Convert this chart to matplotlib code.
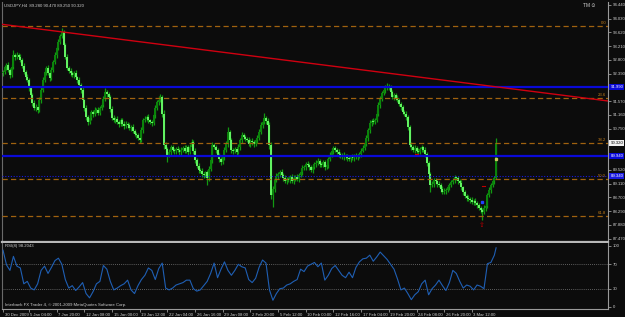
import matplotlib
matplotlib.use('Agg')
import matplotlib.pyplot as plt
import matplotlib.transforms as mtransforms
import numpy as np

# ---------------- data ----------------
first_open = 92.40
closes = [
    92.44, 92.58, 92.65, 92.50, 92.35, 92.60, 92.95, 92.88, 92.95, 92.90,
    92.80, 92.62, 92.44, 92.30, 92.20, 91.95, 91.76, 91.52, 91.37, 91.40,
    91.31, 91.60, 91.91, 92.20, 92.44, 92.56, 92.40, 92.26, 92.50, 92.74,
    92.95, 93.16, 93.35, 93.52, 93.64, 93.25, 92.90, 92.56, 92.48, 92.40,
    92.35, 92.42, 92.28, 92.20, 92.05, 91.91, 91.60, 91.37, 91.10, 90.95,
    91.08, 91.25, 91.18, 91.30, 91.31, 91.22, 91.38, 91.46, 91.65, 91.85,
    91.78, 91.70, 91.35, 91.07, 91.00, 91.05, 90.95, 90.90, 91.00, 90.88,
    90.83, 90.90, 90.85, 90.77, 90.80, 90.68, 90.59, 90.55, 90.48, 90.41,
    90.70, 91.01, 91.05, 91.10, 91.00, 90.95, 90.92, 91.15, 91.37, 91.55,
    91.61, 91.70, 91.20, 90.27, 90.15, 89.97, 90.05, 90.20, 90.12, 90.08,
    90.15, 90.12, 90.05, 90.12, 90.18, 90.10, 90.20, 90.06, 90.20, 90.35,
    90.10, 89.82, 89.65, 89.52, 89.48, 89.40, 89.37, 89.45, 89.28, 89.55,
    89.82, 90.27, 90.20, 90.12, 89.95, 89.85, 89.76, 89.90, 90.12, 90.30,
    90.65, 90.40, 90.12, 90.08, 90.15, 90.06, 90.20, 90.40, 90.56, 90.50,
    90.45, 90.41, 90.30, 90.38, 90.35, 90.30, 90.40, 90.47, 90.65, 90.86,
    90.95, 91.07, 90.98, 90.86, 90.27, 88.77, 88.95, 89.22, 89.35, 89.40,
    89.46, 89.38, 89.28, 89.20, 89.25, 89.22, 89.30, 89.18, 89.28, 89.32,
    89.25, 89.37, 89.45, 89.58, 89.62, 89.70, 89.67, 89.60, 89.52, 89.62,
    89.70, 89.73, 89.80, 89.70, 89.67, 89.75, 89.62, 89.67, 89.85, 89.97,
    90.10, 90.18, 90.12, 90.06, 90.00, 89.95, 89.97, 89.90, 89.95, 89.88,
    89.85, 89.92, 89.88, 89.95, 89.90, 89.94, 90.00, 90.10, 90.18, 90.30,
    90.47, 90.70, 90.92, 90.98, 90.95, 91.01, 91.20, 91.46, 91.65, 91.82,
    91.90, 91.97, 92.02, 91.97, 91.85, 91.70, 91.75, 91.68, 91.61, 91.50,
    91.40, 91.25, 91.20, 91.10, 90.80, 90.27, 90.20, 90.12, 90.18, 90.10,
    90.06, 90.15, 90.20, 90.12, 90.00, 89.73, 89.40, 89.07, 89.10, 89.22,
    89.18, 89.10, 89.07, 88.95, 88.86, 88.90, 88.92, 89.00, 89.07, 89.15,
    89.22, 89.30, 89.28, 89.20, 89.13, 89.00, 88.86, 88.75, 88.69, 88.65,
    88.63, 88.58, 88.60, 88.54, 88.48, 88.40, 88.33, 88.28, 88.39, 88.45,
    88.77, 88.92, 89.07, 89.18, 89.28, 90.32,
]
# upper / lower shadow lengths in hundredths of a yen
wick_hi = [
    6, 8, 5, 10, 7, 9, 15, 6, 8, 5, 7, 6, 8, 5, 9, 6, 7, 5, 8, 10,
    6, 9, 7, 8, 6, 5, 10, 7, 8, 6, 9, 7, 8, 6, 11, 5, 7, 9, 6, 8,
    7, 6, 9, 5, 8, 6, 7, 5, 10, 6, 8, 7, 6, 9, 5, 8, 6, 7, 9, 10,
    6, 8, 5, 7, 9, 6, 8, 5, 7, 6, 10, 7, 5, 8, 6, 9, 7, 5, 8, 6,
    9, 7, 8, 6, 10, 5, 7, 8, 9, 6, 12, 8, 6, 10, 7, 6, 9, 7, 8, 6,
    7, 9, 6, 8, 5, 10, 7, 6, 9, 8, 6, 7, 5, 8, 6, 9, 7, 5, 8, 10,
    9, 8, 6, 7, 5, 8, 6, 9, 10, 7, 15, 6, 8, 5, 7, 6, 9, 8, 10, 6,
    7, 5, 8, 6, 9, 7, 6, 8, 10, 9, 7, 15, 6, 8, 10, 7, 9, 6, 8, 5,
    7, 9, 6, 8, 5, 7, 6, 9, 8, 6, 7, 5, 9, 8, 6, 7, 10, 6, 8, 7,
    6, 8, 9, 5, 7, 6, 8, 10, 7, 9, 8, 6, 7, 5, 9, 6, 7, 8, 6, 5,
    7, 6, 8, 5, 9, 7, 6, 8, 10, 9, 8, 7, 9, 6, 8, 7, 10, 9, 8, 7,
    8, 9, 8, 6, 7, 5, 8, 6, 7, 5, 6, 7, 5, 8, 6, 7, 9, 6, 8, 5,
    7, 6, 8, 5, 9, 6, 7, 5, 8, 6, 7, 5, 8, 6, 9, 7, 6, 8, 5, 7,
    6, 8, 5, 7, 6, 9, 5, 7, 6, 8, 5, 7, 6, 8, 5, 7, 6, 5, 8, 9,
    7, 8, 6, 9, 7, 15,
]
wick_lo = [
    7, 5, 9, 6, 8, 5, 7, 9, 6, 8, 5, 7, 6, 9, 7, 8, 6, 10, 7, 9,
    10, 6, 8, 5, 7, 9, 6, 8, 5, 7, 6, 8, 5, 7, 6, 9, 8, 7, 6, 8,
    6, 8, 5, 9, 7, 8, 6, 10, 8, 9, 7, 6, 8, 5, 9, 7, 6, 8, 5, 6,
    8, 6, 9, 7, 6, 8, 5, 9, 7, 6, 8, 7, 9, 6, 8, 5, 7, 9, 6, 9,
    6, 8, 5, 7, 9, 6, 8, 5, 7, 6, 8, 7, 10, 12, 9, 21, 7, 8, 6, 9,
    8, 6, 9, 7, 5, 8, 6, 9, 7, 6, 10, 8, 7, 9, 6, 8, 10, 7, 21, 8,
    7, 9, 6, 8, 7, 10, 8, 6, 9, 7, 8, 6, 9, 7, 5, 8, 6, 7, 9, 6,
    8, 7, 6, 9, 7, 8, 6, 9, 7, 6, 8, 5, 9, 7, 12, 10, 35, 8, 6, 9,
    8, 6, 10, 7, 9, 6, 8, 5, 7, 9, 6, 8, 5, 7, 6, 9, 7, 8, 6, 9,
    7, 9, 6, 8, 5, 7, 9, 6, 8, 7, 6, 9, 5, 7, 8, 6, 9, 7, 5, 8,
    6, 9, 7, 8, 5, 7, 6, 8, 5, 7, 6, 9, 7, 8, 5, 7, 6, 8, 9, 7,
    6, 8, 5, 7, 9, 6, 8, 7, 6, 8, 9, 7, 6, 8, 10, 7, 9, 6, 8, 7,
    9, 6, 8, 7, 10, 8, 9, 21, 6, 8, 7, 9, 6, 8, 5, 7, 9, 6, 8, 7,
    6, 8, 7, 9, 6, 8, 10, 7, 9, 6, 8, 7, 9, 6, 8, 7, 9, 25, 6, 8,
    7, 6, 8, 5, 7, 4,
]

# RSI(8) as drawn in the lower panel, read every second bar (plus the last bar)
rsi_values = [
    93, 69, 60, 83, 67, 64, 38, 42, 31, 28,
    38, 60, 67, 55, 65, 76, 80, 70, 45, 31,
    35, 27, 33, 40, 22, 15, 25, 38, 42, 68,
    62, 42, 28, 31, 35, 38, 44, 28, 22, 35,
    45, 52, 64, 60, 45, 63, 72, 31, 28, 31,
    36, 38, 40, 44, 44, 30, 26, 28, 35, 42,
    55, 72, 48, 62, 74, 60, 52, 60, 70, 66,
    64, 45, 40, 47, 65, 77, 72, 28, 11, 22,
    30, 31, 36, 38, 42, 45, 62, 58, 67, 70,
    73, 66, 72, 44, 52, 63, 68, 60, 52, 48,
    57, 48, 65, 74, 79, 80, 85, 75, 82, 90,
    84, 78, 70, 62, 46, 28, 31, 22, 12, 20,
    25, 38, 44, 20, 30, 36, 44, 35, 27, 40,
    60, 55, 42, 31, 36, 34, 28, 36, 34, 30,
    71, 73, 85, 97,
]

date_labels = ["30 Dec 2009", "5 Jan 04:00", "7 Jan 20:00", "12 Jan 08:00",
               "15 Jan 00:00", "19 Jan 12:00", "22 Jan 04:00", "26 Jan 16:00",
               "29 Jan 08:00", "2 Feb 20:00", "5 Feb 12:00", "10 Feb 00:00",
               "12 Feb 16:00", "17 Feb 04:00", "19 Feb 20:00", "24 Feb 08:00",
               "26 Feb 20:00", "3 Mar 12:00"]
date_bars = [0, 15, 31, 47, 63, 79, 95, 111, 127, 143, 159, 175, 191, 207,
             223, 239, 255, 271]

price_ticks = [94.440, 94.030, 93.620, 93.210, 92.800, 92.390, 91.570,
               91.160, 90.750, 89.520, 89.110, 88.700, 88.290, 87.880, 87.470]
rsi_ticks = [100, 70, 30, 0]

fib_names = ["0.0", "23.6", "38.2", "50.0", "61.8"]
fib_prices = [93.81, 91.67, 90.32, 89.25, 88.15]
blue_lines = [91.99, 89.94]
blue_dotted = [89.34]
trend_bars = [0, 285]
trend_prices = [93.86, 92.00]
bid_price = 90.32
title = "USDJPY,H4  89.280 90.470 89.250 90.320"
rsi_title = "RSI(8) 98.2043"

# ---------------- styling ----------------
BG = '#0c0c0c'
GRID = '#9a9a9a'
TXT = '#cfcfcf'
BULL = '#0b840b'
BEAR = '#62f262'
WICK = '#129a12'
ORANGE = '#a0620f'
FS = 3.1
plt.rcParams['font.family'] = ['Liberation Sans', 'DejaVu Sans']

W, H = 625, 317
def rect(x0, y0, x1, y1):
    return [x0 / W, 1 - y1 / H, (x1 - x0) / W, (y1 - y0) / H]

fig = plt.figure(figsize=(6.25, 3.17), dpi=100, facecolor=BG)
ax = fig.add_axes(rect(2, 2, 608, 242), facecolor=BG)
ax2 = fig.add_axes(rect(2, 243, 608, 309), facecolor=BG)

n = len(closes)
idx = np.arange(n)
c = np.array(closes)
o = np.array([first_open] + closes[:-1])
hi = np.maximum(o, c) + np.array(wick_hi) / 100.0
lo = np.minimum(o, c) - np.array(wick_lo) / 100.0
up = c >= o

ax.vlines(idx, lo, hi, color=WICK, lw=0.9, zorder=2)
body_h = np.maximum(np.abs(c - o), 0.015)
ax.bar(idx[up], body_h[up], bottom=np.minimum(o, c)[up], width=1.15,
       color=BULL, linewidth=0, zorder=3)
ax.bar(idx[~up], body_h[~up], bottom=np.minimum(o, c)[~up], width=1.15,
       color=BEAR, linewidth=0, zorder=3)

xmax = -0.6 + 606 / 1.73
ax.set_xlim(-0.6, xmax)
ax.set_ylim(87.373, 94.529)

tr = mtransforms.blended_transform_factory(ax.transAxes, ax.transData)
# objects
for p, name in zip(fib_prices, fib_names):
    ax.axhline(p, color=ORANGE, lw=0.9, dashes=(4.2, 2.6), zorder=4)
    ax.text(0.997, p + 0.02, name, transform=tr, ha='right', va='bottom',
            fontsize=FS, color='#c07a18', zorder=6)
for p in blue_lines:
    ax.axhline(p, color='#0a0ad8', lw=1.6, zorder=5)
for p in blue_dotted:
    ax.axhline(p, color='#1a1ae0', lw=0.8, ls=(0, (1, 1.5)), zorder=5)
ax.axline((trend_bars[0], trend_prices[0]), (trend_bars[1], trend_prices[1]),
          color='#d00010', lw=1.0, zorder=5)

# small marks
ax.text(277, 87.86, '⇧', color='#c00000', fontsize=5, ha='center', va='center', zorder=7)
ax.plot([277], [88.57], marker='s', ms=1.6, color='#2040ff', zorder=7)
ax.plot([277, 278.5], [89.04, 89.04], color='#c00000', lw=0.8, zorder=7)
ax.plot([238, 240], [89.99, 89.99], color='#c00000', lw=0.8, zorder=7)
ax.plot([285], [89.85], marker='s', ms=1.4, color='#c8c860', zorder=7)

# price axis
ax.spines['top'].set_visible(False)
ax.spines['left'].set_color('#6a6a6a')
ax.spines['right'].set_color(GRID)
ax.spines['bottom'].set_color('#b8b8b8')
ax.spines['bottom'].set_linewidth(1.6)
ax.set_xticks([])
ax.yaxis.tick_right()
ax.set_yticks(price_ticks)
ax.set_yticklabels(['%.3f' % t for t in price_ticks])
ax.tick_params(axis='y', colors=GRID, labelcolor=TXT, labelsize=FS, length=2,
               width=0.6, pad=1.5)

def box(p, txt, fc, tc):
    ax.text(1.004, p, txt, transform=tr, ha='left', va='center', fontsize=FS,
            color=tc, clip_on=False, zorder=10,
            bbox=dict(boxstyle='square,pad=0.25', fc=fc, ec='none'))
box(blue_lines[0], '%.3f' % blue_lines[0], '#0a0ad8', 'white')
box(blue_lines[1], '%.3f' % blue_lines[1], '#0a0ad8', 'white')
box(blue_dotted[0], '%.3f' % blue_dotted[0], '#1a1ae0', 'white')
box(bid_price, '%.3f' % bid_price, '#f0f0f0', 'black')

fig.text(4 / W, 1 - 6 / H, title, fontsize=FS, color=TXT, va='center', ha='left')
fig.text(583 / W, 1 - 5.5 / H, 'TM ⊙', fontsize=FS + 0.4, color=TXT, va='center', ha='left')

# ---------------- RSI ----------------
rsi_bars = np.append(np.arange(0, n - 1, 2), n - 1)
ax2.plot(rsi_bars, rsi_values, color='#1f5fb4', lw=0.8, zorder=3)
for lvl in [70, 30]:
    ax2.axhline(lvl, color='#7a7a7a', lw=0.6, ls=(0, (1, 1.5)), zorder=2)
ax2.set_xlim(-0.6, xmax)
ax2.set_ylim(-3.3, 104.9)
ax2.spines['top'].set_visible(False)
for s in ['left', 'right', 'bottom']:
    ax2.spines[s].set_color(GRID)
ax2.spines['left'].set_color('#6a6a6a')
ax2.yaxis.tick_right()
ax2.set_yticks(rsi_ticks)
ax2.set_yticklabels([str(t) for t in rsi_ticks])
ax2.tick_params(axis='y', colors=GRID, labelcolor=TXT, labelsize=FS, length=2,
                width=0.6, pad=1.5)
ax2.set_xticks(date_bars)
ax2.set_xticklabels(date_labels, ha='left')
ax2.tick_params(axis='x', colors=GRID, labelcolor=TXT, labelsize=FS, length=2,
                width=0.6, pad=0.8)
for lab in ax2.get_xticklabels():
    lab.set_transform(lab.get_transform() + mtransforms.ScaledTranslation(1.5 / 100, 0, fig.dpi_scale_trans))

tr2 = mtransforms.blended_transform_factory(ax2.transAxes, ax2.transData)
ax2.text(3 / 606, 100, rsi_title, transform=tr2, fontsize=FS, color=TXT,
         ha='left', va='center')
ax2.text(3 / 606, 2.5, 'Interbank FX Trader 4, © 2001-2009 MetaQuotes Software Corp.',
         transform=tr2, fontsize=FS, color=TXT, ha='left', va='center')

fig.savefig('out.png', dpi=100, facecolor=BG)
